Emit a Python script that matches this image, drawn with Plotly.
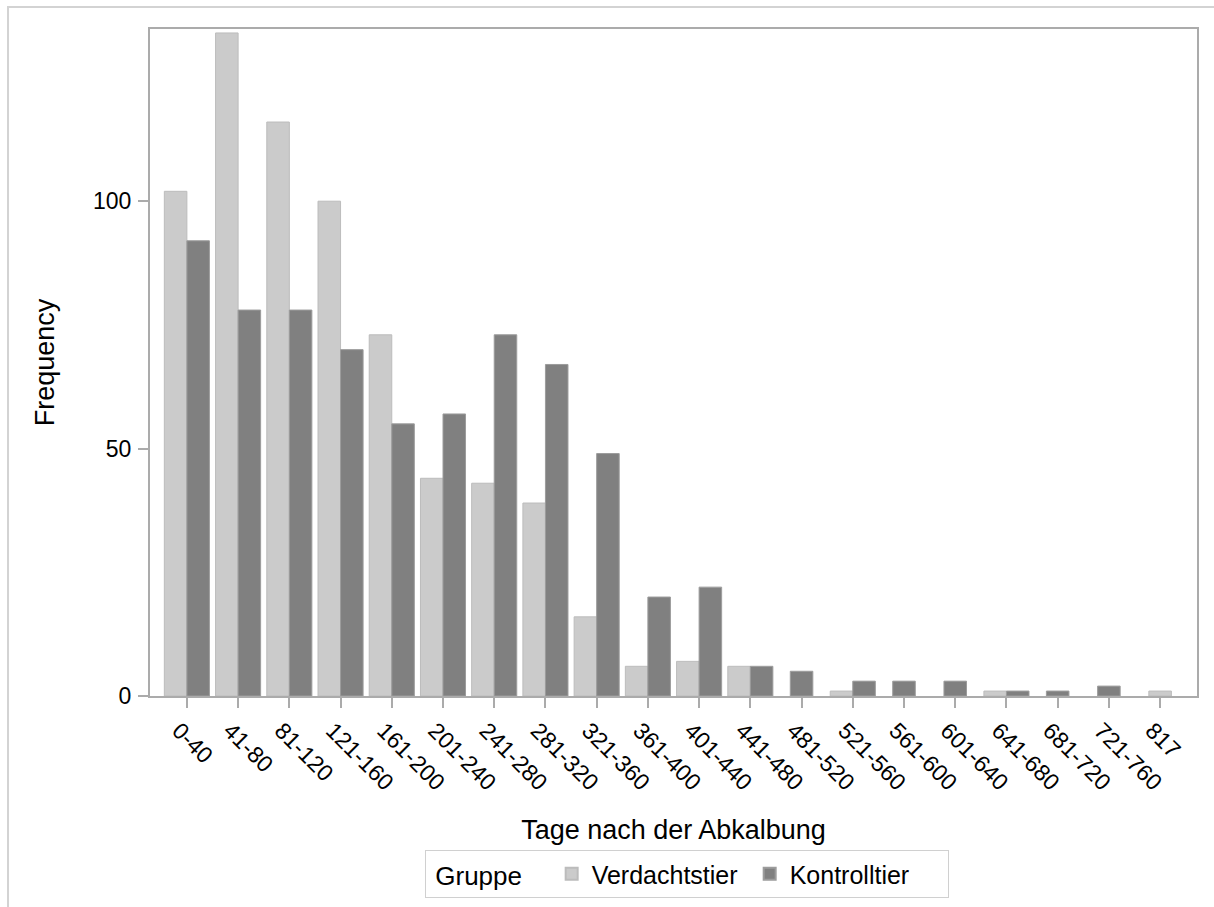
import plotly.graph_objects as go

categories = ["0-40", "41-80", "81-120", "121-160", "161-200", "201-240", "241-280",
              "281-320", "321-360", "361-400", "401-440", "441-480", "481-520",
              "521-560", "561-600", "601-640", "641-680", "681-720", "721-760", "817"]
verdacht = [102, 134, 116, 100, 73, 44, 43, 39, 16, 6, 7, 6, None, 1, None, None, 1, None, None, 1]
kontroll = [92, 78, 78, 70, 55, 57, 73, 67, 49, 20, 22, 6, 5, 3, 3, 3, 1, 1, 2, None]

W = 0.44
# SAS-style cluster: a lone group bar is centered on its category
off_v = [-W if k is not None else -W / 2 for k in kontroll]
off_k = [0 if v is not None else -W / 2 for v in verdacht]

FONT = "Liberation Sans, Arial, sans-serif"
NB = "\u00a0"

fig = go.Figure()
fig.add_trace(go.Bar(
    x=categories, y=verdacht, name="Verdachtstier",
    width=W, offset=off_v,
    marker=dict(color="#cbcbcb", line=dict(color="#bcbcbc", width=1)),
))
fig.add_trace(go.Bar(
    x=categories, y=kontroll, name="Kontrolltier",
    width=W, offset=off_k,
    marker=dict(color="#808080", line=dict(color="#9c9c9c", width=1)),
))

fig.update_layout(
    width=1214, height=907,
    barmode="overlay",
    paper_bgcolor="white", plot_bgcolor="white",
    margin=dict(l=150, r=17, t=29, b=211, autoexpand=False),
    font=dict(family=FONT, size=23, color="black"),
    showlegend=True,
    legend=dict(
        orientation="h", x=0.2627, xanchor="left", y=-0.2309, yanchor="top",
        title=dict(text=NB + "Gruppe" + NB * 3, font=dict(size=26)),
        font=dict(size=25),
        bordercolor="#d0d0d0", borderwidth=1,
        itemsizing="constant",
        entrywidth=153,
        tracegroupgap=0,
    ),
    shapes=[dict(type="rect", xref="paper", yref="paper",
                 x0=-0.1356, x1=1.05, y0=-0.4, y1=1.033,
                 line=dict(color="#d3d3d3", width=2), fillcolor="rgba(0,0,0,0)",
                 layer="below")],
)

fig.update_xaxes(
    type="category", range=[-0.72, 19.72],
    showline=True, mirror=True, linecolor="#ababab", linewidth=2,
    ticks="outside", ticklen=10, tickcolor="#ababab", tickwidth=2,
    tickangle=45, tickfont=dict(size=23), ticklabelshift=-8,
    showgrid=False, zeroline=False,
    title=dict(text="Tage nach der Abkalbung", font=dict(size=27), standoff=26),
)
fig.update_yaxes(
    range=[0, 134.8], tickvals=[0, 50, 100],
    showline=True, mirror=True, linecolor="#ababab", linewidth=2,
    ticks="outside", ticklen=10, tickcolor="#ababab", tickwidth=2,
    tickfont=dict(size=23), ticklabelstandoff=2,
    showgrid=False, zeroline=False,
    title=dict(text="Frequency", font=dict(size=27), standoff=31),
)

fig.write_html("out.html", config={"displayModeBar": False},
               post_script="document.body.style.margin='0';")
